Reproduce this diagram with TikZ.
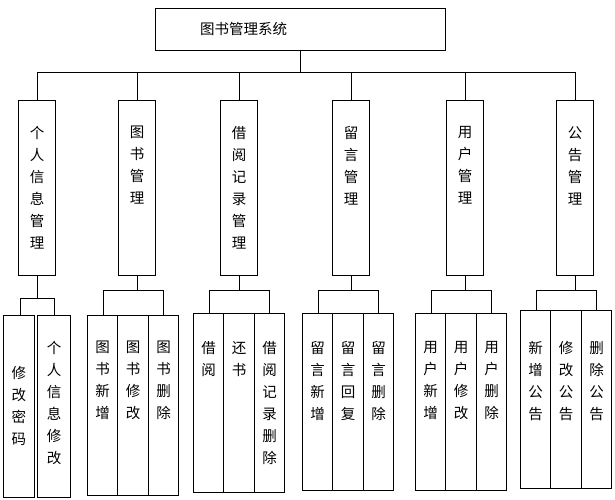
\documentclass[tikz,border=0pt]{standalone}
\usepackage{fontspec}
\newfontfamily\cjk{Noto Sans CJK SC}
\begin{document}
\begin{tikzpicture}[x=1pt,y=-1pt,font=\cjk\fontsize{14.5}{22}\selectfont,
  bx/.style={draw,line width=0.8pt,inner sep=0pt},
  tx/.style={anchor=north,align=center,inner sep=0pt},
  ln/.style={line width=0.8pt}]
\useasboundingbox (0,0) rectangle (615,500);
% top
\node[bx,minimum width=290,minimum height=42] (root) at (300,29) {};
\node[anchor=west,inner sep=0pt] (roott) at (200,29) {图书管理系统};
\coordinate (rb) at (300,72);
\draw[ln] (root.south) -- (rb);
\draw[ln] (37,72) -- (575,72);
% mid boxes
\foreach \n/\x/\t in {m1/37/{个\\人\\信\\息\\管\\理},m2/137/{图\\书\\管\\理},m3/239/{借\\阅\\记\\录\\管\\理},m4/351/{留\\言\\管\\理},m5/465/{用\\户\\管\\理},m6/575/{公\\告\\管\\理}}{
  \node[bx,minimum width=37,minimum height=175] (\n) at (\x,187.5) {};
  \node[tx] (\n t) at (\x,126) {\t};
  \coordinate (\n c) at (\x,72);
  \draw[ln] (\n c) -- (\n.north);
}
% group 1
\coordinate (g1) at (37,298);
\draw[ln] (m1.south) -- (g1);
\draw[ln] (20,298) -- (54,298);
\node[bx,minimum width=31,minimum height=182] (b11) at (19,406) {};
\node[bx,minimum width=33,minimum height=182] (b12) at (54,406) {};
\node[tx] (b11t) at (19,366) {修\\改\\密\\码};
\node[tx] (b12t) at (54,341) {个\\人\\信\\息\\修\\改};
\draw[ln] (20,298) -- (20,315); \draw[ln] (54,298) -- (54,315);
% other groups
\foreach \g/\m/\c/\bc/\yt/\yb/\ta/\tb/\tc in {
  2/m2/137/133/315/495/{图\\书\\新\\增}/{图\\书\\修\\改}/{图\\书\\删\\除},
  3/m3/239/239/313/492/{借\\阅}/{还\\书}/{借\\阅\\记\\录\\删\\除},
  4/m4/351/348/313/490/{留\\言\\新\\增}/{留\\言\\回\\复}/{留\\言\\删\\除},
  5/m5/465/461/313/490/{用\\户\\新\\增}/{用\\户\\修\\改}/{用\\户\\删\\除},
  6/m6/575/566/310/488/{新\\增\\公\\告}/{修\\改\\公\\告}/{删\\除\\公\\告}}{
  \coordinate (g\g) at (\c,290);
  \draw[ln] (\m.south) -- (g\g);
  \draw[ln] (\bc-30,290) -- (\bc+30,290);
  \draw[ln] (\bc-30,290) -- (\bc-30,\yt);
  \draw[ln] (\bc+30,290) -- (\bc+30,\yt);
  \foreach \k/\t in {-1/\ta,0/\tb,1/\tc}{
    \node[bx,minimum width=30.5,minimum height=\yb-\yt] (b\g\k) at (\bc+\k*30.5,{(\yt+\yb)/2}) {};
    \node[tx] (b\g\k t) at (\bc+\k*30.5,341) {\t};
  }
}
\end{tikzpicture}
\end{document}
